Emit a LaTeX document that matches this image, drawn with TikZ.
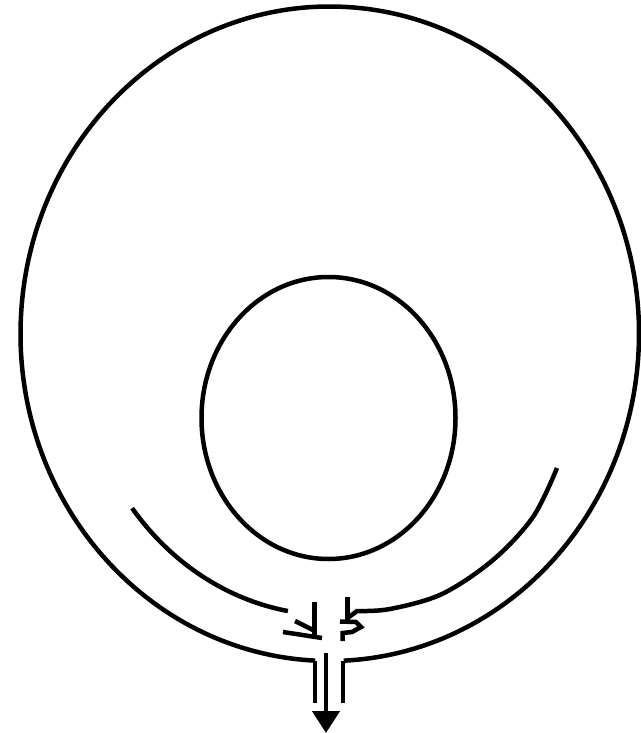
\documentclass[tikz,border=0pt]{standalone}
\usetikzlibrary{arrows.meta}
\begin{document}
\begin{tikzpicture}[x=1pt,y=-1pt,line width=4.5pt,
  wall/.style={draw=black,line width=4.5pt},
  flow/.style={draw=black,line width=4.5pt}]
\useasboundingbox (0,0) rectangle (640,733);
% outer wall with outlet gap at the bottom
\coordinate (oc) at (329.75,333.75);
\draw[wall] (oc) ++(92.7:309.25 and 327.25)
  arc[start angle=92.7,end angle=447.4,x radius=309.25,y radius=327.25];
% inner wall
\coordinate (ic) at (328.5,418);
\draw[wall] (ic) ellipse [x radius=127,y radius=141];
% outlet pipe
\coordinate (pl1) at (315,660.5);
\coordinate (pl2) at (315,703);
\coordinate (pr1) at (343,660.5);
\coordinate (pr2) at (343,703);
\draw[wall] (pl1) -- (pl2);
\draw[wall] (pr1) -- (pr2);
\coordinate (a1) at (326,653);
\coordinate (a2) at (326,733);
\draw[flow,-{Triangle[width=27pt,length=22pt]}] (a1) -- (a2);
% left flow arc
\coordinate (lc) at (330,333);
\draw[flow] (lc) ++(141.6:252.5 and 282)
  arc[start angle=141.6,end angle=99.6,x radius=252.5,y radius=282];
% right flow arc
\draw[flow] plot[smooth,tension=0.55] coordinates
  {(557,468) (533,517) (493,560) (442,594) (390,609) (357,611)} -- (349,617);
% left arrow mark
\draw[flow] (314.5,602) -- (314.5,636);
\draw[flow] (295,621) -- (313,630);
\draw[flow] (283,632) -- (322,638);
% right arrow mark
\draw[flow] (347.5,597) -- (347.5,624);
\draw[flow] (340,621.5) -- (356,622) -- (361,627) -- (352,632) -- (342.5,633) -- (342.5,641);
\end{tikzpicture}
\end{document}
